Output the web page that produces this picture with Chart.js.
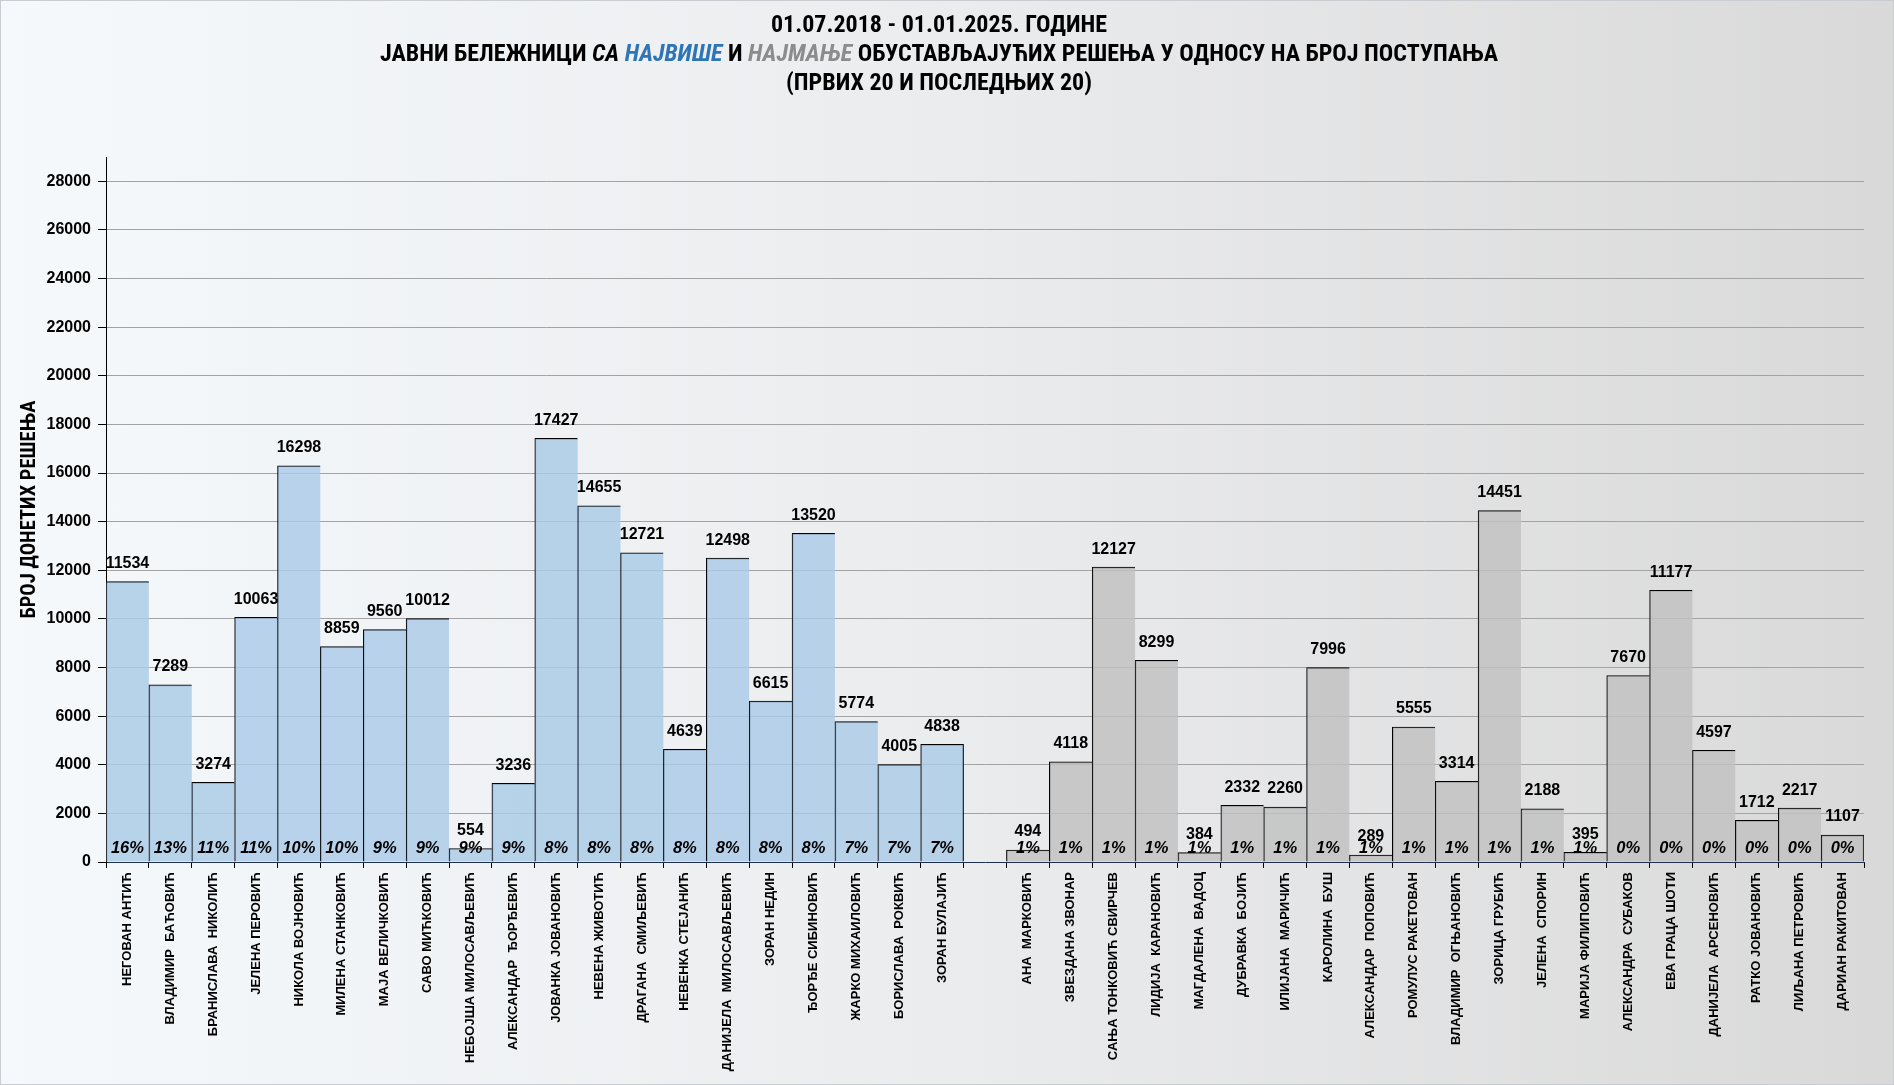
<!DOCTYPE html>
<html>
<head>
<meta charset="utf-8">
<script src="https://cdn.jsdelivr.net/npm/chart.js@4/dist/chart.umd.min.js"></script>
<style>
  html, body { margin: 0; padding: 0; }
  body { width: 1894px; height: 1085px; overflow: hidden; }
  #wrap {
    position: relative; width: 1894px; height: 1085px; box-sizing: border-box;
    background: linear-gradient(to right, #f5f9fc 0%, #ebecee 50%, #d9d9d9 100%);
    border: 1px solid #c9cdd2;
  }
  #title {
    position: absolute; left: 0; top: 9px; width: 1876px; text-align: center;
    font-family: 'Roboto Condensed', 'Liberation Sans Narrow', sans-serif;
    font-weight: bold; font-size: 24px; line-height: 29px; color: #000;
  }
  #title .blue { color: #2e75b6; font-style: italic; }
  #title .grey { color: #8c8c8c; font-style: italic; }
  #title i { font-style: italic; }
  #chartBox { position: absolute; left: 0; top: 0; width: 1892px; height: 1083px; }
</style>
</head>
<body>
<div id="wrap">
  <div id="chartBox"><canvas id="c"></canvas></div>
  <div id="title">
    <div>01.07.2018 - 01.01.2025. ГОДИНЕ</div>
    <div>ЈАВНИ БЕЛЕЖНИЦИ <i>СА </i><span class="blue">НАЈВИШЕ</span> И <span class="grey">НАЈМАЊЕ</span> ОБУСТАВЉАЈУЋИХ РЕШЕЊА У ОДНОСУ НА БРОЈ ПОСТУПАЊА</div>
    <div>(ПРВИХ 20 И ПОСЛЕДЊИХ 20)</div>
  </div>
</div>
<script>
// ---- data ----
const topNames = [
  'НЕГОВАН АНТИЋ', 'ВЛАДИМИР  БАЋОВИЋ', 'БРАНИСЛАВА  НИКОЛИЋ', 'ЈЕЛЕНА ПЕРОВИЋ', 'НИКОЛА ВОЈНОВИЋ',
  'МИЛЕНА СТАНКОВИЋ', 'МАЈА ВЕЛИЧКОВИЋ', 'САВО МИЋКОВИЋ', 'НЕБОЈША МИЛОСАВЉЕВИЋ', 'АЛЕКСАНДАР  ЂОРЂЕВИЋ',
  'ЈОВАНКА ЈОВАНОВИЋ', 'НЕВЕНА ЖИВОТИЋ', 'ДРАГАНА  СМИЉЕВИЋ', 'НЕВЕНКА СТЕЈАНИЋ', 'ДАНИЈЕЛА  МИЛОСАВЉЕВИЋ',
  'ЗОРАН НЕДИН', 'ЂОРЂЕ СИБИНОВИЋ', 'ЖАРКО МИХАИЛОВИЋ', 'БОРИСЛАВА  РОКВИЋ', 'ЗОРАН БУЛАЈИЋ'
];
const topValues = [11534, 7289, 3274, 10063, 16298, 8859, 9560, 10012, 554, 3236,
                   17427, 14655, 12721, 4639, 12498, 6615, 13520, 5774, 4005, 4838];
const topPercents = [16, 13, 11, 11, 10, 10, 9, 9, 9, 9, 8, 8, 8, 8, 8, 8, 8, 7, 7, 7];

const bottomNames = [
  'АНА  МАРКОВИЋ', 'ЗВЕЗДАНА ЗВОНАР', 'САЊА ТОНКОВИЋ СВИРЧЕВ', 'ЛИДИЈА  КАРАНОВИЋ', 'МАГДАЛЕНА  ВАДОЦ',
  'ДУБРАВКА  БОЈИЋ', 'ИЛИЈАНА  МАРИЧИЋ', 'КАРОЛИНА  БУШ', 'АЛЕКСАНДАР  ПОПОВИЋ', 'РОМУЛУС РАКЕТОВАН',
  'ВЛАДИМИР  ОГЊАНОВИЋ', 'ЗОРИЦА ГРУБИЋ', 'ЈЕЛЕНА  СПОРИН', 'МАРИЈА ФИЛИПОВИЋ', 'АЛЕКСАНДРА  СУБАКОВ',
  'ЕВА ГРАЦА ШОТИ', 'ДАНИЈЕЛА  АРСЕНОВИЋ', 'РАТКО ЈОВАНОВИЋ', 'ЛИЉАНА ПЕТРОВИЋ', 'ДАРИАН РАКИТОВАН'
];
const bottomValues = [494, 4118, 12127, 8299, 384, 2332, 2260, 7996, 289, 5555,
                      3314, 14451, 2188, 395, 7670, 11177, 4597, 1712, 2217, 1107];
const bottomPercents = [1, 1, 1, 1, 1, 1, 1, 1, 1, 1, 1, 1, 1, 1, 0, 0, 0, 0, 0, 0];

const yTickValues = [0, 2000, 4000, 6000, 8000, 10000, 12000, 14000,
                     16000, 18000, 20000, 22000, 24000, 26000, 28000];
const yAxisMax = 29000;
const yAxisTitle = 'БРОЈ ДОНЕТИХ РЕШЕЊА';

// ---- build chart table ----
const labels = [...topNames, '', ...bottomNames];
const values = [...topValues, null, ...bottomValues];
const percents = [...topPercents, null, ...bottomPercents];
const nTop = topNames.length;
const lastIdx = labels.length - 1;

const BLUE = 'rgba(170,202,230,0.82)';
const GREY = 'rgba(193,193,193,0.82)';
const SANS = "'Liberation Sans', Arial, sans-serif";
const NARROW = "'Roboto Condensed', 'Liberation Sans Narrow', sans-serif";

const labelPlugin = {
  id: 'barLabels',
  afterDatasetsDraw(chart) {
    const ctx = chart.ctx;
    const meta = chart.getDatasetMeta(0);
    const base = chart.scales.y.getPixelForValue(0);
    ctx.save();
    ctx.fillStyle = '#000';
    ctx.textAlign = 'center';
    ctx.textBaseline = 'middle';
    meta.data.forEach((bar, i) => {
      if (values[i] == null) return;
      ctx.font = 'bold 16px ' + SANS;
      ctx.fillText(String(values[i]), bar.x, bar.y - 18);
      ctx.font = 'italic bold 16.5px ' + SANS;
      ctx.fillText(percents[i] + '%', bar.x, base - 14);
    });
    ctx.restore();
  }
};

new Chart(document.getElementById('c'), {
  type: 'bar',
  data: {
    labels: labels,
    datasets: [{
      data: values,
      backgroundColor: (c) => c.dataIndex < nTop ? BLUE : GREY,
      borderColor: '#000',
      borderWidth: (c) => ({ left: 1, top: 1, bottom: 0,
        right: (c.dataIndex === nTop - 1 || c.dataIndex === lastIdx) ? 1 : 0 }),
      borderSkipped: false,
      barPercentage: 1,
      categoryPercentage: 1
    }]
  },
  options: {
    responsive: true,
    maintainAspectRatio: false,
    animation: false,
    layout: { padding: { top: 156, left: 10, right: 29, bottom: 0 } },
    plugins: {
      legend: { display: false },
      tooltip: { enabled: false },
      title: { display: false }
    },
    scales: {
      x: {
        offset: true,
        grid: { display: true, drawOnChartArea: false, offset: true, tickLength: 6, tickColor: '#000' },
        border: { display: true, color: '#1f2f4f', width: 1 },
        ticks: {
          autoSkip: false, maxRotation: 90, minRotation: 90, padding: 4,
          color: '#000', font: { family: SANS, size: 13, weight: 'bold' }
        },
        afterFit(scale) { scale.height = 222; }
      },
      y: {
        min: 0, max: yAxisMax,
        ticks: {
          autoSkip: false, padding: 7, color: '#000',
          font: { family: SANS, size: 16, weight: 'bold' },
          callback: (v) => String(v)
        },
        afterBuildTicks(scale) { scale.ticks = yTickValues.map(v => ({ value: v })); },
        grid: { color: '#a3a3a3', lineWidth: 1, tickLength: 8, tickColor: '#000', drawTicks: true },
        border: { display: true, color: '#000', width: 1 },
        title: {
          display: true, text: yAxisTitle, color: '#000',
          font: { family: NARROW, size: 20.5, weight: 'bold' },
          padding: { top: 7, bottom: 0 }
        },
        afterFit(scale) { scale.width = 95; }
      }
    }
  },
  plugins: [labelPlugin]
});
</script>
</body>
</html>
